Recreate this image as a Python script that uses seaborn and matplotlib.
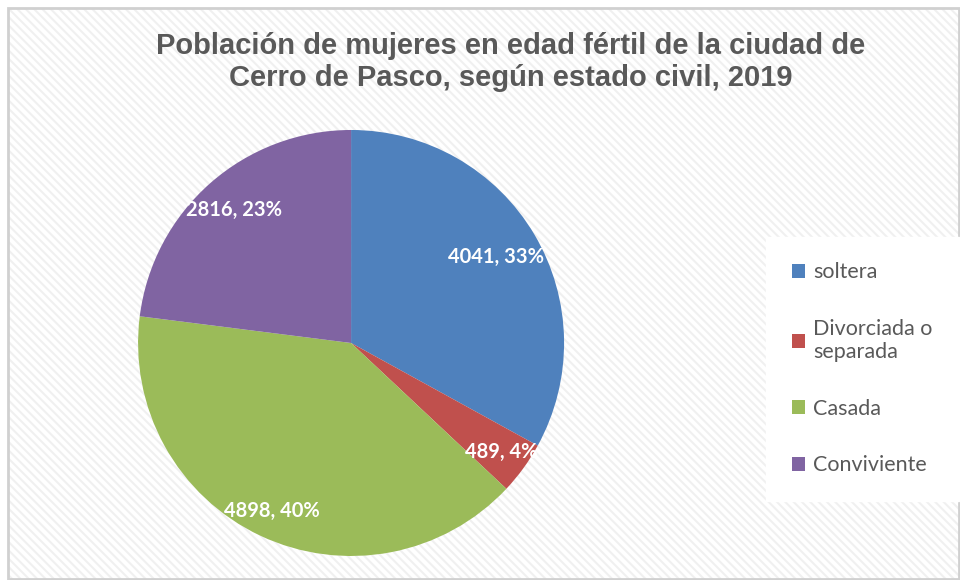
import matplotlib
matplotlib.use("Agg")
import numpy as np
import matplotlib.pyplot as plt
import seaborn as sns
from matplotlib.patches import Rectangle

categorias = ["soltera", "Divorciada o\nseparada", "Casada", "Conviviente"]
cantidades = [4041, 489, 4898, 2816]
colores = ["#4F81BD", "#C0504D", "#9BBB59", "#8064A2"]
# distancia radial de cada etiqueta (fracción del radio)
dist_etiquetas = [0.79, 0.87, 0.87, 0.83]

titulo = "Población de mujeres en edad fértil de la ciudad de\nCerro de Pasco, según estado civil, 2019"


def main():
    sns.set_theme(style="white")
    plt.rcParams["font.family"] = ["Liberation Sans", "DejaVu Sans"]
    plt.rcParams["hatch.linewidth"] = 1.5

    fig = plt.figure(figsize=(9.6, 5.8), dpi=100)
    fig.patch.set_facecolor("white")

    # fondo rayado tipo Excel y marco gris
    fondo = Rectangle((8 / 960, 0), 1 - 8 / 960, 1 - 8 / 580, transform=fig.transFigure,
                      facecolor="white", edgecolor="#f0f0f0", hatch="\\\\\\\\", lw=0, zorder=-5)
    fig.patches.append(fondo)
    marco = Rectangle((8 / 960, 1 / 580), 1 - 9 / 960, 1 - 9 / 580, transform=fig.transFigure,
                      facecolor="none", edgecolor="#d0d0d0", lw=2, zorder=-4)
    fig.patches.append(marco)

    ax = fig.add_axes([0.1437, 0.0414, 0.444, 0.7345])
    ax.set_facecolor("none")
    ax.set_zorder(2)

    total = sum(cantidades)

    def etiqueta(pct):
        val = int(round(pct * total / 100))
        return f"{val}, {pct:.0f}%"

    wedges, _, autotexts = ax.pie(
        cantidades, colors=colores, startangle=90, counterclock=False,
        autopct=etiqueta, pctdistance=0.83,
        textprops=dict(color="white", fontsize=14.5, fontweight="bold",
                       family=["Lato", "DejaVu Sans"]),
        wedgeprops=dict(linewidth=0))
    for w, t, d in zip(wedges, autotexts, dist_etiquetas):
        ang = np.deg2rad((w.theta1 + w.theta2) / 2)
        t.set_position((d * np.cos(ang), d * np.sin(ang)))
    ax.set_xlim(-1, 1)
    ax.set_ylim(-1, 1)
    ax.set_aspect("equal")

    fig.text(0.532, 0.945, titulo, ha="center", va="top", fontsize=21,
             fontweight="bold", color="#595959", linespacing=1.2)

    leg = fig.legend(wedges, categorias, loc="center left",
                     bbox_to_anchor=(0.798, 0.364), frameon=True, facecolor="white",
                     edgecolor="white", framealpha=1, fancybox=False,
                     handlelength=0.6, handleheight=0.6, handletextpad=0.4,
                     labelspacing=1.7, borderpad=1.2, borderaxespad=0,
                     prop=dict(family=["Lato", "DejaVu Sans"], size=15.5))
    leg.set_zorder(3)
    for t in leg.get_texts():
        t.set_color("#595959")

    fig.savefig("out.png", dpi=100, facecolor=fig.get_facecolor())


if __name__ == "__main__":
    main()
